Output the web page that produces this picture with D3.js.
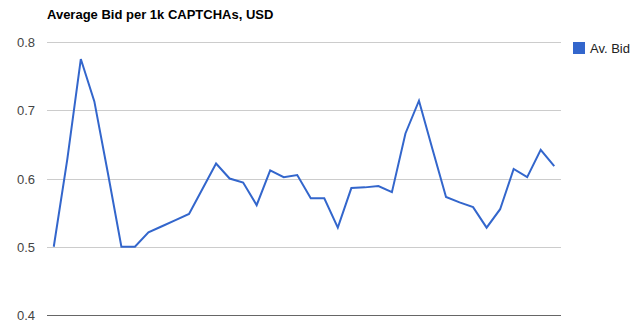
<!DOCTYPE html>
<html>
<head>
<meta charset="utf-8">
<script src="https://cdn.jsdelivr.net/npm/d3@7/dist/d3.min.js"></script>
<style>
  body { margin: 0; background: #fff; }
  svg { display: block; font-family: Arial, "Liberation Sans", sans-serif; }
</style>
</head>
<body>
<figure id="chart" style="margin:0"></figure>
<script>
// data
const title = "Average Bid per 1k CAPTCHAs, USD";
const seriesName = "Av. Bid";
const categories = d3.range(1, 39);
const bids = [0.50, 0.628, 0.775, 0.713, 0.608, 0.50, 0.50, 0.521, 0.530, 0.539,
  0.548, 0.585, 0.622, 0.600, 0.594, 0.561, 0.612, 0.602, 0.605, 0.571,
  0.571, 0.528, 0.586, 0.587, 0.589, 0.580, 0.666, 0.714, 0.643, 0.573,
  0.565, 0.558, 0.528, 0.555, 0.614, 0.602, 0.642, 0.618];
const yTicks = [0.4, 0.5, 0.6, 0.7, 0.8];

const width = 640, height = 325;
const plotLeft = 47, plotRight = 561, plotTop = 42, plotBottom = 315;

const svg = d3.select("figure#chart")
  .append("svg")
  .attr("width", width)
  .attr("height", height);

const x = d3.scaleBand()
  .domain(categories)
  .range([plotLeft, plotRight]);

const y = d3.scaleLinear()
  .domain([0.4, 0.8])
  .range([plotBottom, plotTop]);

// gridlines
svg.append("g")
  .selectAll("line")
  .data(yTicks)
  .enter()
  .append("line")
  .attr("x1", plotLeft)
  .attr("x2", plotRight)
  .attr("y1", d => Math.round(y(d)) + 0.5)
  .attr("y2", d => Math.round(y(d)) + 0.5)
  .attr("stroke", d => d === 0.4 ? "#666" : "#ccc")
  .attr("stroke-width", 1);

// y axis labels
svg.append("g")
  .selectAll("text")
  .data(yTicks)
  .enter()
  .append("text")
  .attr("x", 35)
  .attr("y", d => y(d) + 5)
  .attr("text-anchor", "end")
  .attr("font-size", 13)
  .attr("fill", "#444")
  .text(d => d.toFixed(1));

// line
const line = d3.line()
  .x((d, i) => x(categories[i]) + x.bandwidth() / 2)
  .y(d => y(d));

svg.append("path")
  .datum(bids)
  .attr("d", line)
  .attr("fill", "none")
  .attr("stroke", "#3366cc")
  .attr("stroke-width", 2)
  .attr("stroke-linejoin", "miter");

// title
svg.append("text")
  .attr("x", 47)
  .attr("y", 19)
  .attr("font-size", 13)
  .attr("font-weight", "bold")
  .attr("fill", "#000")
  .text(title);

// legend
svg.append("rect")
  .attr("x", 573)
  .attr("y", 42)
  .attr("width", 12)
  .attr("height", 12)
  .attr("fill", "#3366cc");
svg.append("text")
  .attr("x", 590)
  .attr("y", 53)
  .attr("font-size", 13)
  .attr("fill", "#222")
  .text(seriesName);
</script>
</body>
</html>
